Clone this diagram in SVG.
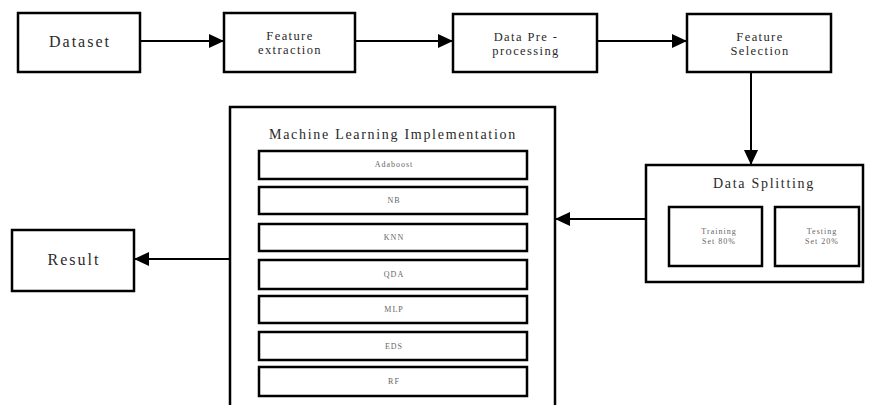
<svg xmlns="http://www.w3.org/2000/svg" width="869" height="405" viewBox="0 0 869 405">
<defs>
<marker id="ah" markerWidth="15" markerHeight="14" refX="14" refY="7" orient="auto" markerUnits="userSpaceOnUse">
<path d="M0,0 L15,7 L0,14 Z" fill="#000"/>
</marker>
<style>
.box{fill:#fff;stroke:#000;stroke-width:2.5}
.ibox{fill:#fff;stroke:#000;stroke-width:2.5}
text{font-family:'Liberation Serif','DejaVu Serif','Times New Roman',serif;fill:#2a2a2a;text-anchor:middle}
.big{font-size:16px;letter-spacing:2px}
.mid{font-size:12.5px;letter-spacing:1.4px}
.hd{font-size:14px;letter-spacing:1.7px}
.sm{font-size:8px;letter-spacing:1px;fill:#666}
.conn{stroke:#000;stroke-width:2;fill:none;marker-end:url(#ah)}
</style>
</defs>
<rect width="869" height="405" fill="#fff"/>
<g id="dataset"><rect class="box" x="18" y="13" width="122" height="59"/><text class="big" x="80" y="47">Dataset</text></g>
<g id="feature-extraction"><rect class="box" x="224" y="13" width="131" height="59"/><text class="mid" x="290" y="40">Feature</text><text class="mid" x="290" y="54">extraction</text></g>
<g id="preprocessing"><rect class="box" x="453" y="14" width="144" height="58"/><text class="mid" x="526" y="41">Data Pre -</text><text class="mid" x="526" y="55">processing</text></g>
<g id="feature-selection"><rect class="box" x="687" y="14" width="144" height="58"/><text class="mid" x="760" y="41">Feature</text><text class="mid" x="760" y="55">Selection</text></g>
<g id="data-splitting"><rect class="box" x="646" y="165" width="217" height="117"/><text class="hd" x="764" y="188">Data Splitting</text>
<rect class="box" x="669" y="207" width="93" height="59"/><text class="sm" x="719" y="234">Training</text><text class="sm" x="719" y="244">Set 80%</text>
<rect class="box" x="775" y="207" width="84" height="59"/><text class="sm" x="822" y="234">Testing</text><text class="sm" x="822" y="244">Set 20%</text></g>
<g id="ml"><rect class="box" x="230" y="107" width="325" height="310"/><text class="hd" x="393" y="139">Machine Learning  Implementation</text>
<g id="adaboost"><rect class="ibox" x="259" y="151" width="268" height="28"/><text class="sm" x="394" y="167">Adaboost</text></g>
<g id="nb"><rect class="ibox" x="259" y="187" width="268" height="27"/><text class="sm" x="394" y="203">NB</text></g>
<g id="knn"><rect class="ibox" x="259" y="224" width="268" height="27"/><text class="sm" x="394" y="240">KNN</text></g>
<g id="qda"><rect class="ibox" x="259" y="260" width="268" height="29"/><text class="sm" x="394" y="277">QDA</text></g>
<g id="mlp"><rect class="ibox" x="259" y="296" width="268" height="27"/><text class="sm" x="394" y="312">MLP</text></g>
<g id="eds"><rect class="ibox" x="259" y="332" width="268" height="28"/><text class="sm" x="394" y="349">EDS</text></g>
<g id="rf"><rect class="ibox" x="259" y="367" width="268" height="29"/><text class="sm" x="394" y="384">RF</text></g>
</g>
<g id="result"><rect class="box" x="12" y="230" width="122" height="61"/><text class="big" x="74" y="265">Result</text></g>
<g id="connectors">
<line class="conn" x1="140" y1="41" x2="223" y2="41"/>
<line class="conn" x1="355" y1="41" x2="452" y2="41"/>
<line class="conn" x1="597" y1="41" x2="686" y2="41"/>
<line class="conn" x1="751" y1="72" x2="751" y2="164"/>
<line class="conn" x1="646" y1="219" x2="556" y2="219"/>
<line class="conn" x1="230" y1="259" x2="135" y2="259"/>
</g>
</svg>
